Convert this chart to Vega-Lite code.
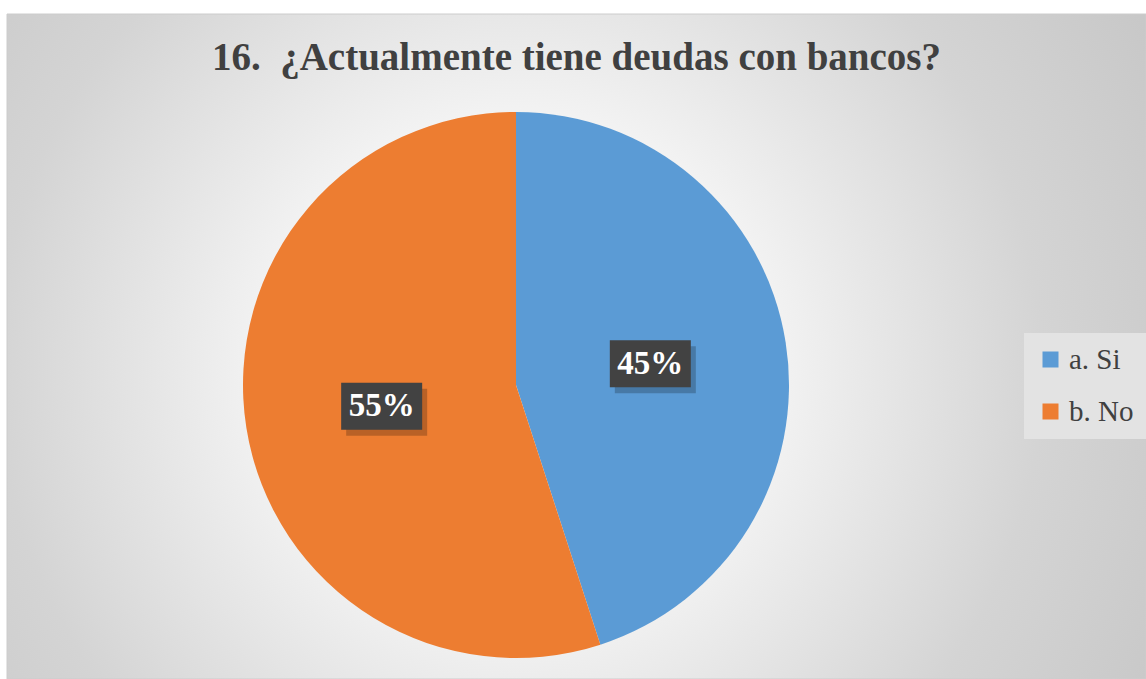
{
  "$schema": "https://vega.github.io/schema/vega-lite/v6.json",
  "width": 1139,
  "height": 665,
  "autosize": "none",
  "padding": {"left": 7, "top": 14, "right": 0, "bottom": 0},
  "background": "white",
  "config": {"view": {"stroke": null}},
  "title": {
    "text": "16.\u00a0 ¿Actualmente tiene deudas con bancos?",
    "font": "Liberation Serif",
    "fontSize": 39,
    "fontWeight": "bold",
    "color": "#404040",
    "anchor": "middle",
    "baseline": "alphabetic",
    "offset": -95
  },
  "datasets": {
    "respuestas": [
      {"cat": "a. Si", "pct": 45},
      {"cat": "b. No", "pct": 55}
    ],
    "fondo": [{"bg": 1}]
  },
  "layer": [
    {
      "data": {"name": "fondo"},
      "mark": {
        "type": "rect",
        "stroke": "#cccccc",
        "strokeWidth": 1,
        "fill": {
          "gradient": "radial",
          "x1": 0.45, "y1": 0.52, "r1": 0,
          "x2": 0.45, "y2": 0.52, "r2": 0.74,
          "stops": [
            {"offset": 0, "color": "#ffffff"},
            {"offset": 0.3, "color": "#f3f3f3"},
            {"offset": 0.62, "color": "#d4d4d4"},
            {"offset": 1, "color": "#c0c0c0"}
          ]
        }
      },
      "encoding": {}
    },
    {
      "data": {"name": "respuestas"},
      "mark": {"type": "arc", "radius": 273, "x": 509, "y": 371, "stroke": null},
      "encoding": {
        "theta": {"field": "pct", "type": "quantitative", "stack": true},
        "order": {"field": "cat"},
        "color": {
          "field": "cat",
          "type": "nominal",
          "scale": {"domain": ["a. Si", "b. No"], "range": ["#5b9bd5", "#ed7d31"]},
          "legend": {
            "orient": "none",
            "legendX": 1017,
            "legendY": 319,
            "title": null,
            "symbolType": "square",
            "symbolSize": 256,
            "symbolStrokeWidth": 0,
            "symbolOffset": 0,
            "labelFont": "Liberation Serif",
            "labelFontSize": 29,
            "labelColor": "#404040",
            "labelOffset": 4,
            "fillColor": "#e3e3e3",
            "padding": 12,
            "rowPadding": 22
          }
        }
      }
    },
    {
      "data": {"name": "respuestas"},
      "transform": [
        {"window": [{"op": "sum", "field": "pct", "as": "cum"}], "sort": [{"field": "cat"}]},
        {"calculate": "(datum.cum - datum.pct / 2) * 2 * PI / 100", "as": "mid"},
        {"calculate": "509 + 136 * sin(datum.mid)", "as": "bx"},
        {"calculate": "371 - 136 * cos(datum.mid)", "as": "by"}
      ],
      "layer": [
        {
          "mark": {
            "type": "point",
            "shape": "M-1,-0.58H1V0.58H-1Z",
            "size": 6561,
            "filled": true,
            "color": "#000000",
            "opacity": 0.22,
            "xOffset": 5,
            "yOffset": 6
          },
          "encoding": {
            "x": {"field": "bx", "type": "quantitative", "scale": null},
            "y": {"field": "by", "type": "quantitative", "scale": null}
          }
        },
        {
          "mark": {
            "type": "point",
            "shape": "M-1,-0.58H1V0.58H-1Z",
            "size": 6561,
            "filled": true,
            "color": "#424242",
            "opacity": 1
          },
          "encoding": {
            "x": {"field": "bx", "type": "quantitative", "scale": null},
            "y": {"field": "by", "type": "quantitative", "scale": null}
          }
        }
      ]
    },
    {
      "data": {"name": "respuestas"},
      "transform": [{"calculate": "datum.pct + '%'", "as": "etiqueta"}],
      "mark": {
        "type": "text",
        "radius": 136,
        "x": 509,
        "y": 371,
        "font": "Liberation Serif",
        "fontSize": 33,
        "fontWeight": "bold",
        "color": "#ffffff",
        "baseline": "middle",
        "align": "center"
      },
      "encoding": {
        "theta": {"field": "pct", "type": "quantitative", "stack": true},
        "order": {"field": "cat"},
        "text": {"field": "etiqueta"}
      }
    }
  ]
}
